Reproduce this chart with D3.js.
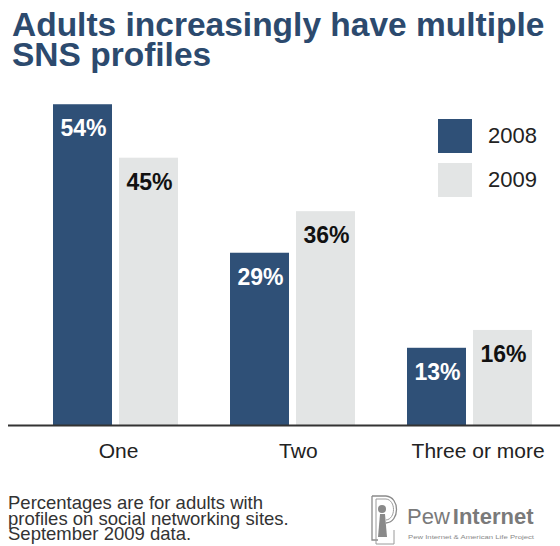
<!DOCTYPE html>
<html>
<head>
<meta charset="utf-8">
<script src="https://cdn.jsdelivr.net/npm/d3@7"></script>
<style>
  html, body { margin: 0; padding: 0; background: #fff; }
  svg { display: block; font-family: "Liberation Sans", Arial, Helvetica, sans-serif; }
</style>
</head>
<body>
<svg id="chart" width="560" height="546"></svg>
<script>
const categories = ["One", "Two", "Three or more"];
const seriesNames = ["2008", "2009"];
const values2008 = [54, 29, 13];
const values2009 = [45, 36, 16];
const titleLines = ["Adults increasingly have multiple", "SNS profiles"];
const noteLines = ["Percentages are for adults with", "profiles on social networking sites.", "September 2009 data."];

const colors = { "2008": "#2f5077", "2009": "#e3e5e5" };
const labelColors = { "2008": "#ffffff", "2009": "#111111" };

const svg = d3.select("#chart");

// Title
svg.append("g").selectAll("text").data(titleLines).join("text")
  .attr("x", 12)
  .attr("y", (d, i) => 36 + i * 29.5)
  .attr("font-size", 33.5)
  .attr("font-weight", "bold")
  .attr("fill", "#2c4a6e")
  .text(d => d);

const x0 = d3.scaleBand().domain(categories).range([27, 558])
  .paddingInner(52 / 177).paddingOuter(26 / 177);
const x1 = d3.scaleBand().domain(seriesNames).range([0, x0.bandwidth()])
  .paddingInner(7 / 66).paddingOuter(0);
const y = d3.scaleLinear().domain([0, 60]).range([425, 68.6]);

const rows = categories.map((c, i) => ({
  cat: c,
  vals: [{ s: "2008", v: values2008[i] }, { s: "2009", v: values2009[i] }]
}));

const groups = svg.append("g").selectAll("g").data(rows).join("g")
  .attr("transform", d => `translate(${x0(d.cat)},0)`);

groups.selectAll("rect").data(d => d.vals).join("rect")
  .attr("x", d => x1(d.s))
  .attr("y", d => y(d.v))
  .attr("width", x1.bandwidth())
  .attr("height", d => y(0) - y(d.v))
  .attr("fill", d => colors[d.s]);

groups.selectAll("text").data(d => d.vals).join("text")
  .attr("x", d => x1(d.s) + x1.bandwidth() / 2 + 1)
  .attr("y", d => y(d.v) + 32)
  .attr("text-anchor", "middle")
  .attr("font-size", 23)
  .attr("font-weight", "bold")
  .attr("fill", d => labelColors[d.s])
  .text(d => d.v + "%");

// Axis
const axis = svg.append("g").attr("transform", `translate(0,${y(0)})`)
  .call(d3.axisBottom(x0).tickSize(0).tickPadding(18));
axis.select(".domain").remove();
axis.selectAll(".tick text")
  .attr("font-size", 21)
  .attr("font-family", "Liberation Sans, Arial, sans-serif")
  .attr("fill", "#222")
  .attr("dx", (d, i) => 3 + i * 2.8);
svg.append("line")
  .attr("x1", 8).attr("x2", 560)
  .attr("y1", y(0) + 0.5).attr("y2", y(0) + 0.5)
  .attr("stroke", "#333").attr("stroke-width", 2);

// Legend
const legend = svg.append("g").attr("transform", "translate(438,119)");
const lg = legend.selectAll("g").data(seriesNames).join("g")
  .attr("transform", (d, i) => `translate(0,${i * 44})`);
lg.append("rect").attr("width", 34).attr("height", 34).attr("fill", d => colors[d]);
lg.append("text").attr("x", 50).attr("y", 24)
  .attr("font-size", 22).attr("fill", "#222").text(d => d);

// Note
svg.append("g").selectAll("text").data(noteLines).join("text")
  .attr("x", 8)
  .attr("y", (d, i) => 509 + i * 15.5)
  .attr("font-size", 18.5)
  .attr("fill", "#333")
  .text(d => d);

// Logo
const logo = svg.append("g");
logo.append("path")
  .attr("d", "M372,496 L386,496 M372,496 L372,540 L378,540 M386,496 C400,497 400,522 386,523")
  .attr("fill", "none").attr("stroke", "#8a8a8a").attr("stroke-width", 1.3);
logo.append("path")
  .attr("d", "M376,499 L386,499 C396,500 396,519 386,520 M376,499 L376,544 L394,544 L394,530")
  .attr("fill", "none").attr("stroke", "#9a9a9a").attr("stroke-width", 1);
logo.append("circle").attr("cx", 382).attr("cy", 509).attr("r", 4).attr("fill", "#8a8a8a");
logo.append("path").attr("d", "M380,514 L385,514 L387,537 L378,537 Z").attr("fill", "#8a8a8a");
logo.append("text").attr("x", 407).attr("y", 524).attr("font-size", 22).attr("fill", "#7a7a7a")
  .attr("font-family", "Liberation Sans, Arial, sans-serif")
  .html('Pew<tspan font-weight="bold" dx="3">Internet</tspan>');
logo.append("text").attr("x", 408).attr("y", 539).attr("font-size", 6).attr("fill", "#888")
  .attr("textLength", 126).attr("lengthAdjust", "spacingAndGlyphs")
  .text("Pew Internet & American Life Project");
</script>
</body>
</html>
